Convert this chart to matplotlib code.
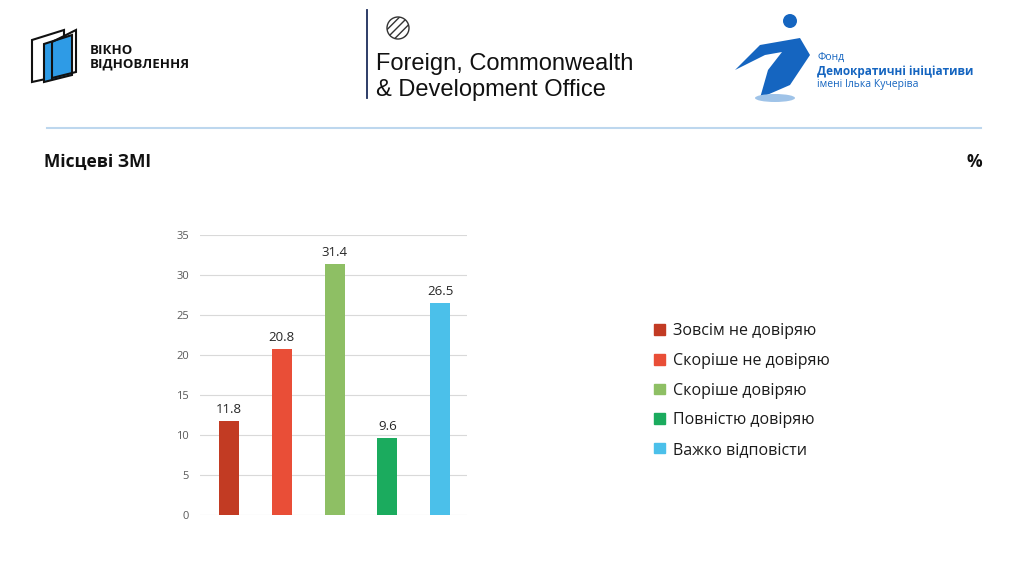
import matplotlib
matplotlib.use("Agg")
import matplotlib.pyplot as plt
from matplotlib.patches import Rectangle, Ellipse, Polygon
from matplotlib.lines import Line2D

categories = ["Зовсім не довіряю", "Скоріше не довіряю", "Скоріше довіряю",
              "Повністю довіряю", "Важко відповісти"]
values = [11.8, 20.8, 31.4, 9.6, 26.5]
colors = ["#C23B23", "#E94E37", "#8EBF64", "#1BAB5E", "#4BC0EA"]
yticks = [0, 5, 10, 15, 20, 25, 30, 35]

FONT = ["Open Sans", "DejaVu Sans"]
plt.rcParams['font.family'] = FONT

W, H = 1024, 574
fig = plt.figure(figsize=(W / 100, H / 100), dpi=100)
fig.patch.set_facecolor("white")

def fx(x):
    return x / W

def fy(y):
    return 1 - y / H

# ---- Bar chart ----
ax = fig.add_axes([fx(200), fy(515), fx(467) - fx(200), fy(235) - fy(515)])
x = list(range(len(values)))
bars = ax.bar(x, values, width=0.38, color=colors, zorder=3)
ax.set_ylim(0, 35)
ax.set_xlim(-0.55, 4.51)
ax.set_yticks(yticks)
ax.set_xticks([])
ax.yaxis.grid(True, color="#D9D9D9", linewidth=0.8, zorder=0)
for s in ax.spines.values():
    s.set_visible(False)
ax.tick_params(axis="y", length=0, labelsize=8, labelcolor="#595959", pad=8)
for xi, v in zip(x, values):
    ax.text(xi, v + 0.6, f"{v:.1f}", ha="center", va="bottom", fontsize=9.5,
            color="#262626")

# ---- Legend ----
handles = [Rectangle((0, 0), 1, 1, color=c) for c in colors]
leg = fig.legend(handles, categories, loc="upper left",
                 bbox_to_anchor=(fx(640), fy(309)), frameon=False,
                 fontsize=11.5, handlelength=0.65, handleheight=0.65,
                 handletextpad=0.5, labelspacing=0.85)
for t in leg.get_texts():
    t.set_color("#1a1a1a")

# ---- Title and % ----
fig.text(fx(44), fy(162), "Місцеві ЗМІ", fontsize=12.5, fontweight="bold",
         va="center", ha="left", color="#111111")
fig.text(fx(982), fy(162), "%", fontsize=12.5, fontweight="bold",
         va="center", ha="right", color="#111111")

# separator line
fig.add_artist(Line2D([fx(47), fx(981)], [fy(128), fy(128)],
                      color="#BDD7EE", linewidth=1.5))

# ---- Logo 1: Вікно відновлення ----
fig.add_artist(Polygon([(fx(32), fy(40)), (fx(64), fy(30)), (fx(64), fy(75)), (fx(32), fy(82))],
                       closed=True, fill=False, edgecolor="#111111", linewidth=1.5))
fig.add_artist(Polygon([(fx(44), fy(44)), (fx(72), fy(35)), (fx(72), fy(75)), (fx(44), fy(82))],
                       closed=True, facecolor="#2E9BE6", edgecolor="#111111", linewidth=1.5))
fig.add_artist(Polygon([(fx(52), fy(42)), (fx(76), fy(30)), (fx(76), fy(72)), (fx(52), fy(78))],
                       closed=True, fill=False, edgecolor="#111111", linewidth=1.5))
fig.text(fx(90), fy(50), "ВІКНО", fontsize=9.5, fontweight="bold", va="center",
         ha="left", color="#111111")
fig.text(fx(90), fy(64), "ВІДНОВЛЕННЯ", fontsize=9.5, fontweight="bold", va="center",
         ha="left", color="#111111")

# ---- Logo 2: FCDO ----
fig.add_artist(Line2D([fx(367), fx(367)], [fy(10), fy(98)], color="#1d2d5c",
                      linewidth=1.3))
fig.add_artist(Ellipse((fx(398), fy(28)), fx(22), fx(22) * W / H * 1.0,
                       facecolor="white", edgecolor="#333333", linewidth=1.0,
                       hatch="////"))
fig.text(fx(376), fy(64), "Foreign, Commonwealth", fontsize=17, va="center",
         ha="left", color="#111111", family=["Liberation Sans", "DejaVu Sans"])
fig.text(fx(376), fy(90), "& Development Office", fontsize=17, va="center",
         ha="left", color="#111111", family=["Liberation Sans", "DejaVu Sans"])

# ---- Logo 3: Фонд Демократичні ініціативи ----
blue = "#1565C0"
fig.add_artist(Ellipse((fx(790), fy(21)), fx(14), fx(14) * W / H,
                       facecolor=blue, edgecolor="none"))
fig.add_artist(Polygon([(fx(735), fy(70)), (fx(760), fy(45)), (fx(800), fy(38)),
                        (fx(810), fy(55)), (fx(790), fy(85)), (fx(760), fy(98)),
                        (fx(768), fy(70)), (fx(782), fy(52)), (fx(765), fy(55))],
                       closed=True, facecolor=blue, edgecolor="none"))
fig.add_artist(Ellipse((fx(775), fy(98)), fx(40), fy(0) - fy(8),
                       facecolor="#9FC3E8", edgecolor="none"))
fig.text(fx(817), fy(57), "Фонд", fontsize=7.5, va="center", ha="left", color=blue)
fig.text(fx(817), fy(71), "Демократичні ініціативи", fontsize=8.5, fontweight="bold",
         va="center", ha="left", color=blue)
fig.text(fx(817), fy(84), "імені Ілька Кучеріва", fontsize=7.5, va="center",
         ha="left", color=blue)

fig.savefig("out.png", dpi=100, facecolor="white")
